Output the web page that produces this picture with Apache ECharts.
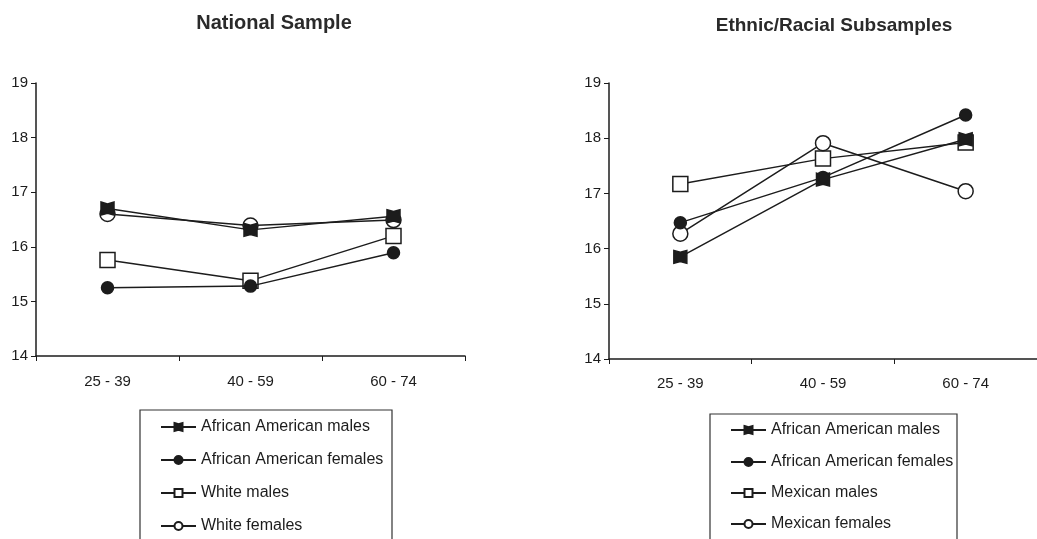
<!DOCTYPE html>
<html>
<head>
<meta charset="utf-8">
<script src="https://cdn.jsdelivr.net/npm/echarts@6/dist/echarts.min.js"></script>
<style>html,body{margin:0;padding:0;background:#fff}#c{width:1037px;height:539px}</style>
</head>
<body>
<div id="c"></div>
<script>
var categories = ['25 - 39', '40 - 59', '60 - 74'];
var leftTitle = 'National Sample';
var rightTitle = 'Ethnic/Racial Subsamples';
var leftNames = ['African American males', 'African American females', 'White males', 'White females'];
var rightNames = ['African American males', 'African American females', 'Mexican males', 'Mexican females'];
// National sample
var natAAMales = [16.70, 16.31, 16.56];
var natAAFemales = [15.25, 15.28, 15.89];
var natWhiteMales = [15.76, 15.38, 16.20];
var natWhiteFemales = [16.60, 16.39, 16.49];
// Ethnic/racial subsamples
var ethAAMales = [15.85, 17.25, 17.98];
var ethAAFemales = [16.47, 17.29, 18.42];
var ethMexMales = [17.17, 17.63, 17.92];
var ethMexFemales = [16.27, 17.91, 17.04];
var yTicks = [14, 15, 16, 17, 18, 19];

var ink = '#1c1c1c';
var notchedSquare = 'path://M0,0 L5,1.4 L10,0 L10,10 L5,8.6 L0,10 Z';
var styles = [
  {symbol: notchedSquare, size: 13, fill: ink},
  {symbol: 'circle', size: 12, fill: ink},
  {symbol: 'rect', size: 15, fill: '#fff'},
  {symbol: 'circle', size: 15, fill: '#fff'}
];
function mk(name, data, idx, k) {
  var s = styles[k];
  return {
    name: name, type: 'line', data: data,
    xAxisIndex: idx, yAxisIndex: idx,
    symbol: s.symbol, symbolSize: s.size, showAllSymbol: true,
    lineStyle: {color: ink, width: 1.5},
    itemStyle: {color: s.fill, borderColor: ink, borderWidth: 1.5},
    emphasis: {disabled: true},
    z: k === 2 || k === 3 ? 3 : 4
  };
}
function xAx(idx, margin) {
  return {
    type: 'category', gridIndex: idx, data: categories, boundaryGap: true,
    axisLine: {lineStyle: {color: ink, width: 1.5}},
    axisTick: {show: true, length: 5, lineStyle: {color: ink}},
    axisLabel: {color: ink, fontSize: 15, fontFamily: 'Liberation Sans, Arial', margin: margin}
  };
}
function yAx(idx) {
  return {
    type: 'value', gridIndex: idx, min: yTicks[0], max: yTicks[yTicks.length - 1], interval: 1,
    axisLine: {show: true, lineStyle: {color: ink, width: 1.5}},
    axisTick: {show: true, length: 5, lineStyle: {color: ink}},
    splitLine: {show: false},
    axisLabel: {color: ink, fontSize: 15, fontFamily: 'Liberation Sans, Arial', margin: 8}
  };
}
function legendItem(name, left, centerY) {
  return {
    data: [name], orient: 'vertical', left: left, top: centerY - 8, padding: 0,
    itemWidth: 35, itemHeight: 10,
    textStyle: {color: ink, fontSize: 16, fontFamily: 'Liberation Sans, Arial', lineHeight: 16},
    selectedMode: false
  };
}
var leftYs = [427, 460, 493, 526];
var rightYs = [430, 462, 493, 524];
var legends = [];
leftNames.forEach(function (n, i) { legends.push(legendItem(n, 160, leftYs[i])); });
rightNames.forEach(function (n, i) { legends.push(legendItem(n, 730, rightYs[i])); });

var chart = echarts.init(document.getElementById('c'), null, {renderer: 'canvas'});
chart.setOption({
  animation: false,
  backgroundColor: '#fff',
  title: [
    {text: leftTitle, left: 269, top: 8, textAlign: 'center',
     textStyle: {fontSize: 20, fontWeight: 'bold', color: '#2a2a2a', fontFamily: 'Liberation Sans, Arial'}},
    {text: rightTitle, left: 829, top: 11, textAlign: 'center',
     textStyle: {fontSize: 19, fontWeight: 'bold', color: '#2a2a2a', fontFamily: 'Liberation Sans, Arial'}}
  ],
  grid: [
    {left: 36, top: 83, width: 429, height: 273},
    {left: 609, top: 83, width: 440, height: 276}
  ],
  xAxis: [xAx(0, 18), xAx(1, 17)],
  yAxis: [yAx(0), yAx(1)],
  legend: legends,
  graphic: [
    {type: 'rect', shape: {x: 140, y: 410, width: 252, height: 160}, style: {fill: 'none', stroke: '#333', lineWidth: 1.2}, silent: true},
    {type: 'rect', shape: {x: 710, y: 414, width: 247, height: 160}, style: {fill: 'none', stroke: '#333', lineWidth: 1.2}, silent: true}
  ],
  series: [
    mk(leftNames[0], natAAMales, 0, 0),
    mk(leftNames[1], natAAFemales, 0, 1),
    mk(leftNames[2], natWhiteMales, 0, 2),
    mk(leftNames[3], natWhiteFemales, 0, 3),
    mk(rightNames[0], ethAAMales, 1, 0),
    mk(rightNames[1], ethAAFemales, 1, 1),
    mk(rightNames[2], ethMexMales, 1, 2),
    mk(rightNames[3], ethMexFemales, 1, 3)
  ]
});
</script>
</body>
</html>
